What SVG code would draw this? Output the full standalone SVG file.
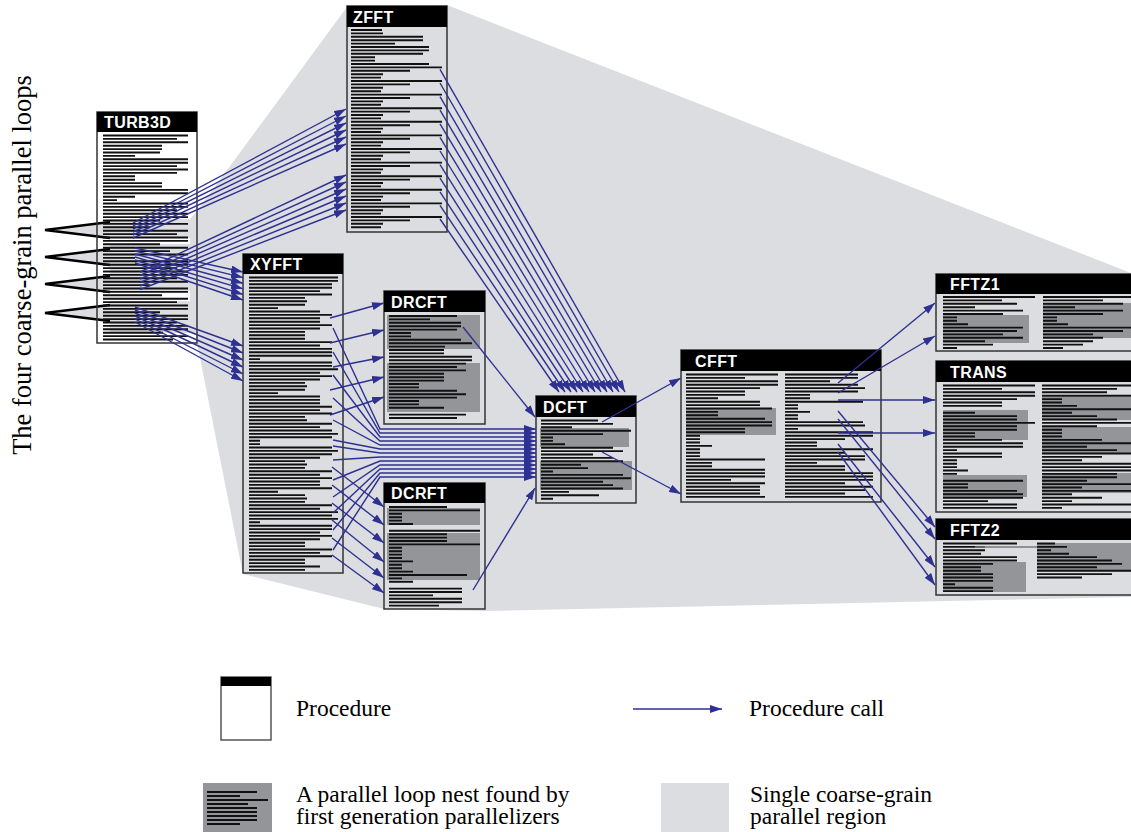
<svg xmlns="http://www.w3.org/2000/svg" width="1131" height="832" viewBox="0 0 1131 832">
<style>
.hdr{fill:#000}
.box{fill:none;stroke:#333;stroke-width:1.5}
.ttl{font-family:"Liberation Sans",Arial,sans-serif;font-weight:bold;font-size:16px;letter-spacing:0.4px;fill:#fff}
.code{fill:none;stroke:#111;stroke-width:0.55}
.loop{fill:#939598}
.call{fill:none;stroke:#2e3192;stroke-width:1.4;marker-end:url(#ah)}
.lbl{font-family:"Liberation Serif","Times New Roman",serif;font-size:23.5px;fill:#000}
.wedge{fill:#dcdde0;stroke:#000;stroke-width:2.5;stroke-linejoin:miter}
</style>
<defs>
<marker id="ah" markerWidth="12" markerHeight="8" refX="12" refY="4" orient="auto" markerUnits="userSpaceOnUse">
<path d="M0,0 L12,4 L0,8 z" fill="#2e3192"/>
</marker>
</defs>
<rect width="1131" height="832" fill="#fff"/>
<g id="region">
<polygon points="110,219 190,219 197,211 347,7 447,5 1131,273 1131,597 485,611 384,609 243,574 197,343 197,333 110,333" fill="#dcdde0"/>
<rect x="110" y="238" width="80" height="6" fill="#fff"/>
<rect x="110" y="291" width="80" height="10" fill="#fff"/>
</g>
<g id="loops-label">
<path class="wedge" d="M110,222 L45,230 L110,238"/>
<path class="wedge" d="M110,249 L45,257 L110,265"/>
<path class="wedge" d="M110,276 L45,284 L110,292"/>
<path class="wedge" d="M110,305 L45,313 L110,321"/>
<text class="lbl" transform="translate(31,265) rotate(-90)" text-anchor="middle" style="font-size:26.5px">The four coarse-grain parallel loops</text>
</g>
<g id="turb3d">
<path class="code" transform="translate(103,135.5) scale(1,3.4)" d="M0 0h85M0 1h74M0 2h85M0 3h59M0 4h59M0 5h57M0 6h32M0 7h85M0 8h85M0 9h74M0 10h85M0 11h74M0 12h32M0 13h32M0 14h59M0 15h59M0 16h85M0 17h85M0 18h32M0 19h14M0 20h85M0 21h85M0 22h74M0 23h85M0 24h85M0 25h57M0 26h85M0 27h47M0 28h85M0 29h74M0 30h85M0 31h85M0 32h57M0 33h85M0 34h67M0 35h85M0 36h32M0 37h85M0 38h85M0 39h74M0 40h85M0 41h85M0 42h74M0 43h85M0 44h47M0 45h85M0 46h85M0 47h59M0 48h85M0 49h74M0 50h85M0 51h85M0 52h57M0 53h85M0 54h85M0 55h74M0 56h85M0 57h85M0 58h60M0 59h85M0 60h70"/>
<rect class="box" x="97" y="112" width="100" height="231"/>
<rect class="hdr" x="97" y="112" width="100" height="20"/>
<text class="ttl" x="104" y="127.5">TURB3D</text>
</g>
<g id="zfft">
<path class="code" transform="translate(351,30) scale(1,3.4)" d="M0 0h31M0 1h32M0 2h72M0 3h72M0 4h44M0 5h78M0 6h78M0 7h72M0 8h24M0 9h24M0 10h78M0 11h91M0 12h59M0 13h32M0 14h30M0 15h91M0 16h59M0 17h32M0 18h30M0 19h91M0 20h59M0 21h32M0 22h30M0 23h91M0 24h59M0 25h32M0 26h30M0 27h91M0 28h59M0 29h32M0 30h30M0 31h91M0 32h59M0 33h32M0 34h30M0 35h91M0 36h59M0 37h32M0 38h30M0 39h91M0 40h59M0 41h32M0 42h30M0 43h91M0 44h59M0 45h32M0 46h30M0 47h91M0 48h59M0 49h32M0 50h30M0 51h91M0 52h59M0 53h32M0 54h30M0 55h91M0 56h59M0 57h32M0 58h30"/>
<rect class="box" x="347" y="6" width="100" height="226"/>
<rect class="hdr" x="347" y="6" width="100" height="21"/>
<text class="ttl" x="353" y="22.5">ZFFT</text>
</g>
<g id="xyfft">
<path class="code" transform="translate(249,277.5) scale(1,3.4)" d="M0 0h89M0 1h89M0 2h83M0 3h83M0 4h71M0 5h83M0 6h56M0 7h58M0 8h56M0 9h29M0 10h71M0 11h83M0 12h71M0 13h71M0 14h83M0 15h71M0 16h56M0 17h56M0 18h56M0 19h83M0 20h71M0 21h83M0 22h83M0 23h83M0 24h11M0 25h83M0 26h83M0 27h89M0 28h71M0 29h83M0 30h71M0 31h56M0 32h58M0 33h56M0 34h29M0 35h71M0 36h71M0 37h71M0 38h83M0 39h71M0 40h83M0 41h56M0 42h58M0 43h83M0 44h71M0 45h83M0 46h89M0 47h83M0 48h11M0 49h11M0 50h83M0 51h89M0 52h83M0 53h71M0 54h56M0 55h58M0 56h56M0 57h83M0 58h71M0 59h83M0 60h71M0 61h71M0 62h83M0 63h29M0 64h56M0 65h58M0 66h56M0 67h83M0 68h71M0 69h89M0 70h83M0 71h89M0 72h11M0 73h83M0 74h83M0 75h71M0 76h83M0 77h71M0 78h56M0 79h56M0 80h83M0 81h71M0 82h83M0 83h56M0 84h56M0 85h71M0 86h56"/>
<rect class="box" x="243" y="254" width="100" height="319"/>
<rect class="hdr" x="243" y="254" width="100" height="20"/>
<text class="ttl" x="250" y="269.5">XYFFT</text>
</g>
<g id="drcft">
<rect class="loop" x="387" y="315" width="93" height="34"/>
<rect class="loop" x="387" y="363" width="93" height="49"/>
<path class="code" transform="translate(389,316) scale(1,3.4)" d="M0 0h68M0 1h41M0 2h72M0 3h72M0 4h68M0 5h22M0 6h22M0 7h72M0 8h83M0 9h56M0 10h55M0 11h55M0 12h83M0 13h83M0 14h77M0 15h68M0 16h77M0 17h55M0 18h55M0 19h55M0 20h30M0 21h30M0 22h68M0 23h77M0 24h68M0 25h30M0 26h30M0 27h55M0 29h77M0 30h68"/>
<rect class="box" x="384" y="291" width="101" height="133"/>
<rect class="hdr" x="384" y="291" width="101" height="21"/>
<text class="ttl" x="391" y="307.5">DRCFT</text>
</g>
<g id="dcrft">
<rect class="loop" x="387" y="508" width="93" height="17"/>
<rect class="loop" x="387" y="533" width="93" height="47"/>
<path class="code" transform="translate(389,507) scale(1,3.4)" d="M0 0h58M0 1h91M0 2h13M0 3h13M0 4h13M0 5h24M0 7h91M0 8h58M0 9h58M0 10h58M0 11h91M0 12h13M0 13h13M0 14h13M0 15h13M0 16h24M0 17h13M0 18h13M0 19h24M0 20h78M0 21h13M0 22h24M0 24h73M0 25h73M0 26h44M0 27h73M0 28h73M0 29h50"/>
<rect class="box" x="384" y="483" width="101" height="126"/>
<rect class="hdr" x="384" y="483" width="101" height="20"/>
<text class="ttl" x="391" y="498.5">DCRFT</text>
</g>
<g id="dcft">
<rect class="loop" x="540" y="428" width="89" height="19"/>
<rect class="loop" x="540" y="461" width="92" height="29"/>
<path class="code" transform="translate(541,420.5) scale(1,3.4)" d="M0 0h57M0 1h72M0 2h31M0 3h90M0 4h62M0 5h12M0 6h12M0 7h24M0 8h72M0 9h82M0 10h52M0 11h72M0 12h82M0 13h40M0 14h47M0 15h12M0 16h82M0 17h90M0 18h62M0 19h72M0 20h82M0 21h28M0 22h58M0 23h12"/>
<rect class="box" x="536" y="396" width="100" height="107"/>
<rect class="hdr" x="536" y="396" width="100" height="21"/>
<text class="ttl" x="543" y="412.5">DCFT</text>
</g>
<g id="cfft">
<rect class="loop" x="686" y="408" width="90" height="27"/>
<path class="code" transform="translate(686,374.5) scale(1,3.4)" d="M0 0h92M0 1h59M0 2h92M0 3h92M0 4h74M0 5h59M0 6h59M0 7h32M0 8h74M0 9h74M0 10h86M0 11h32M0 12h32M0 13h79M0 14h86M0 15h86M0 16h59M0 17h59M0 18h14M0 19h14M0 20h14M0 21h26M0 22h14M0 23h14M0 24h14M0 25h79M0 26h26M0 27h26M0 28h79M0 29h79M0 30h79M0 31h45M0 32h79M0 33h74M0 34h74M0 35h74M0 36h79"/>
<path class="code" transform="translate(785,374.5) scale(1,3.4)" d="M0 0h73M0 1h73M0 2h45M0 3h73M0 4h80M0 5h73M0 6h25M0 7h25M0 8h78M0 9h13M0 10h13M0 11h25M0 12h13M0 13h13M0 14h78M0 15h80M0 16h13M0 17h88M0 18h88M0 19h60M0 20h32M0 21h32M0 22h88M0 23h60M0 24h80M0 25h80M0 26h32M0 27h60M0 28h60M0 29h88M0 30h88M0 31h88M0 32h60M0 33h88M0 34h80M0 35h60M0 36h88"/>
<rect class="box" x="681" y="350" width="200" height="152"/>
<rect class="hdr" x="681" y="350" width="200" height="21"/>
<text class="ttl" x="695" y="366.5">CFFT</text>
</g>
<g id="fftz1">
<rect class="loop" x="943" y="315" width="86" height="28"/>
<rect class="loop" x="1043" y="303" width="90" height="35"/>
<path class="code" transform="translate(943,297) scale(1,3.4)" d="M0 0h92M0 1h59M0 2h74M0 3h32M0 4h80M0 5h60M0 6h14M0 7h14M0 8h25M0 9h80M0 10h74M0 11h60M0 12h80M0 13h42M0 14h50M0 15h14"/>
<path class="code" transform="translate(1043,297) scale(1,3.4)" d="M0 0h88M0 1h60M0 2h80M0 3h32M0 4h80M0 5h60M0 6h14M0 7h14M0 8h25M0 9h88M0 10h80M0 11h50M0 12h60M0 13h50M0 14h40M0 15h20"/>
<rect class="box" x="936" y="274" width="200" height="77"/>
<rect class="hdr" x="936" y="274" width="200" height="20"/>
<text class="ttl" x="950" y="289.5">FFTZ1</text>
</g>
<g id="trans">
<rect class="loop" x="943" y="410" width="85" height="30"/>
<rect class="loop" x="943" y="475" width="84" height="22"/>
<rect class="loop" x="1042" y="397" width="92" height="23"/>
<rect class="loop" x="1042" y="427" width="92" height="26"/>
<rect class="loop" x="1042" y="473" width="92" height="20"/>
<path class="code" transform="translate(943,385.5) scale(1,3.4)" d="M0 0h92M0 1h59M0 2h92M0 3h92M0 4h74M0 5h59M0 6h59M0 8h32M0 9h74M0 10h74M0 11h92M0 12h74M0 13h74M0 14h32M0 15h32M0 16h59M0 17h80M0 18h80M0 19h14M0 20h59M0 21h59M0 22h14M0 23h14M0 24h14M0 25h25M0 26h14M0 28h80M0 29h25M0 30h25M0 31h74M0 32h80M0 33h80M0 34h45M0 35h74M0 36h74"/>
<path class="code" transform="translate(1042,385.5) scale(1,3.4)" d="M0 0h89M0 1h75M0 2h65M0 3h89M0 4h20M0 5h20M0 6h35M0 7h89M0 8h30M0 9h55M0 10h75M0 11h89M0 12h55M0 13h20M0 14h20M0 15h20M0 16h60M0 17h89M0 18h45M0 19h75M0 20h89M0 21h60M0 22h40M0 23h89M0 24h89M0 25h89M0 26h75M0 27h75M0 28h45M0 29h89M0 30h40M0 31h89M0 32h30M0 33h60M0 34h30M0 35h89M0 36h20"/>
<rect class="box" x="936" y="361" width="200" height="151"/>
<rect class="hdr" x="936" y="361" width="200" height="21"/>
<text class="ttl" x="950" y="377.5">TRANS</text>
</g>
<g id="fftz2">
<rect class="loop" x="943" y="562" width="83" height="30"/>
<rect class="loop" x="1037" y="543" width="96" height="27"/>
<path class="code" transform="translate(943,543.5) scale(1,3.4)" d="M0 0h74M0 1h42M0 2h42M0 3h38M0 4h74M0 5h74M0 6h50M0 7h38M0 8h38M0 9h50M0 10h50M0 11h50M0 12h12M0 13h50M0 14h50"/>
<path d="M975 547H1037" stroke="#777" stroke-width="1.5"/>
<path class="code" transform="translate(1037,543.5) scale(1,3.4)" d="M0 0h18M0 1h30M0 2h14M0 3h32M0 4h60M0 5h75M0 6h85M0 7h60M0 8h94M0 9h75M0 10h45"/>
<rect class="box" x="936" y="519" width="200" height="76"/>
<rect class="hdr" x="936" y="519" width="200" height="21"/>
<text class="ttl" x="950" y="535.5">FFTZ2</text>
</g>
<g id="connectors">
<path class="call" d="M133,223L346,109"/>
<path class="call" d="M133,226L346,116"/>
<path class="call" d="M133,229L346,123"/>
<path class="call" d="M133,232L346,130"/>
<path class="call" d="M133,235L346,137"/>
<path class="call" d="M133,238L346,144"/>
<path class="call" d="M140,272L346,175"/>
<path class="call" d="M140,275.5L346,182"/>
<path class="call" d="M140,279L346,189"/>
<path class="call" d="M140,282.5L346,196"/>
<path class="call" d="M140,286L346,203"/>
<path class="call" d="M140,289.5L346,210"/>
<path class="call" d="M135,248L243,272"/>
<path class="call" d="M135,251L243,277.6"/>
<path class="call" d="M135,254L243,283.2"/>
<path class="call" d="M135,257L243,288.8"/>
<path class="call" d="M135,260L243,294.4"/>
<path class="call" d="M135,263L243,300"/>
<path class="call" d="M135,307L243,346"/>
<path class="call" d="M135,310L243,353"/>
<path class="call" d="M135,313L243,360"/>
<path class="call" d="M135,316L243,367"/>
<path class="call" d="M135,319L243,374"/>
<path class="call" d="M135,322L243,381"/>
<path class="call" d="M440,69.4L625,392"/>
<path class="call" d="M440,83L619,392"/>
<path class="call" d="M440,96.6L613,392"/>
<path class="call" d="M440,110.2L607,392"/>
<path class="call" d="M440,123.8L601,392"/>
<path class="call" d="M440,137.4L595,392"/>
<path class="call" d="M440,151L589,392"/>
<path class="call" d="M440,164.6L583,392"/>
<path class="call" d="M440,178.2L577,392"/>
<path class="call" d="M440,191.8L571,392"/>
<path class="call" d="M440,205.4L565,392"/>
<path class="call" d="M440,219L559,392"/>
<path class="call" d="M330,318L384,303"/>
<path class="call" d="M330,343L384,330"/>
<path class="call" d="M333,367L384,357"/>
<path class="call" d="M330,390L384,377"/>
<path class="call" d="M330,415L384,397"/>
<path class="call" d="M333,328L380,429H536"/>
<path class="call" d="M333,352L380,433H536"/>
<path class="call" d="M333,375L380,437H536"/>
<path class="call" d="M333,398L380,441H536"/>
<path class="call" d="M333,420L380,445H536"/>
<path class="call" d="M333,440L380,449H536"/>
<path class="call" d="M333,446L380,453H536"/>
<path class="call" d="M333,460L380,457H536"/>
<path class="call" d="M333,480L380,461H536"/>
<path class="call" d="M333,497L380,465H536"/>
<path class="call" d="M333,513L380,469H536"/>
<path class="call" d="M333,530L380,473H536"/>
<path class="call" d="M333,550L380,477H536"/>
<path class="call" d="M332,467L384,507"/>
<path class="call" d="M332,485L384,525"/>
<path class="call" d="M332,503L384,543"/>
<path class="call" d="M332,520L384,562"/>
<path class="call" d="M332,538L384,578"/>
<path class="call" d="M332,555L384,593"/>
<path class="call" d="M463,327L535,417"/>
<path class="call" d="M473,590L535,488"/>
<path class="call" d="M602,422L681,378"/>
<path class="call" d="M602,452L681,494"/>
<path class="call" d="M838,383L935,303"/>
<path class="call" d="M838,393L935,336"/>
<path class="call" d="M838,400L935,400"/>
<path class="call" d="M838,433L935,433"/>
<path class="call" d="M838,411L935,527"/>
<path class="call" d="M838,419L935,539"/>
<path class="call" d="M838,444L935,567"/>
<path class="call" d="M838,452L935,585"/>
</g>
<g id="legend">
<rect x="221" y="677" width="50" height="63" fill="#fff" stroke="#555" stroke-width="1.5"/>
<rect x="221" y="677" width="50" height="9" fill="#000"/>
<text class="lbl" x="296" y="716">Procedure</text>
<path class="call" d="M633,709L722,709"/>
<text class="lbl" x="749" y="716">Procedure call</text>
<rect x="203" y="783" width="69" height="49" fill="#939598"/>
<path d="M207 792h50M207 796h33M207 800h61M207 804h41M207 808h50M207 812h50M207 816h50M207 820h50M207 824h33" stroke="#111" stroke-width="1.8"/>
<text class="lbl" x="296" y="802">A parallel loop nest found by</text>
<text class="lbl" x="296" y="824">first generation parallelizers</text>
<rect x="661" y="783" width="68" height="49" fill="#dcdde0"/>
<text class="lbl" x="750" y="802">Single coarse-grain</text>
<text class="lbl" x="750" y="824">parallel region</text>
</g>
</svg>
